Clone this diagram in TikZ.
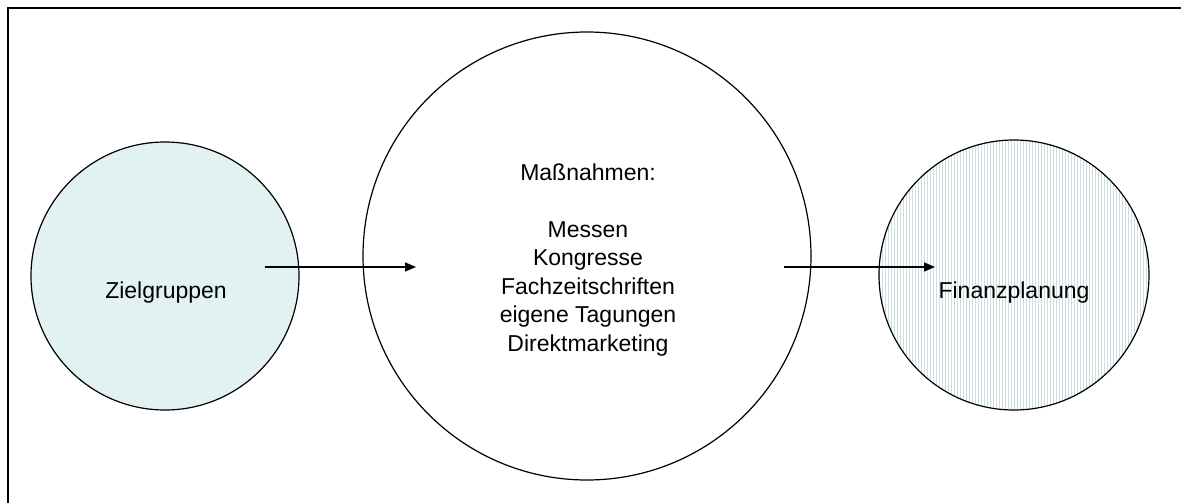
\documentclass[tikz,border=0pt]{standalone}
\usepackage{fontspec}
\setmainfont{Liberation Sans}
\usetikzlibrary{arrows.meta,patterns}
\definecolor{zielfill}{RGB}{226,242,243}
\definecolor{stripe}{RGB}{205,222,227}
\begin{document}
\begin{tikzpicture}[x=1pt,y=-1pt,
  ring/.style={circle, draw=black, line width=1.2pt, inner sep=0pt},
  lbl/.style={font=\fontsize{23}{28.5}\selectfont, align=center, inner sep=0pt},
  conn/.style={line width=1.4pt, -{Triangle[length=11pt,width=9pt]}},
  frameline/.style={line width=2.2pt}]
\useasboundingbox (0,0) rectangle (1181,503);
\coordinate (fbl) at (8,503);
\coordinate (ftl) at (8,8);
\coordinate (ftr) at (1181,8);
\draw[frameline] (fbl) -- (ftl) -- (ftr);
\node[ring, minimum size=268pt, fill=zielfill] (ziel) at (165,276) {};
\node[ring, minimum size=448pt] (mass) at (587,256) {};
\node[ring, minimum size=270pt, pattern=vertical lines, pattern color=stripe] (fin) at (1014,275) {};
\node[lbl] (zieltxt) at (166,293) {Zielgruppen};
\node[lbl] (masstxt) at (588,260) {Maßnahmen:\\[28.5pt]Messen\\Kongresse\\Fachzeitschriften\\eigene Tagungen\\Direktmarketing};
\node[lbl] (fintxt) at (1014,293) {Finanzplanung};
\coordinate (a1s) at (265,267);
\coordinate (a1e) at (416,267);
\coordinate (a2s) at (784,267);
\coordinate (a2e) at (935,267);
\draw[conn] (a1s) -- (a1e);
\draw[conn] (a2s) -- (a2e);
\end{tikzpicture}
\end{document}
